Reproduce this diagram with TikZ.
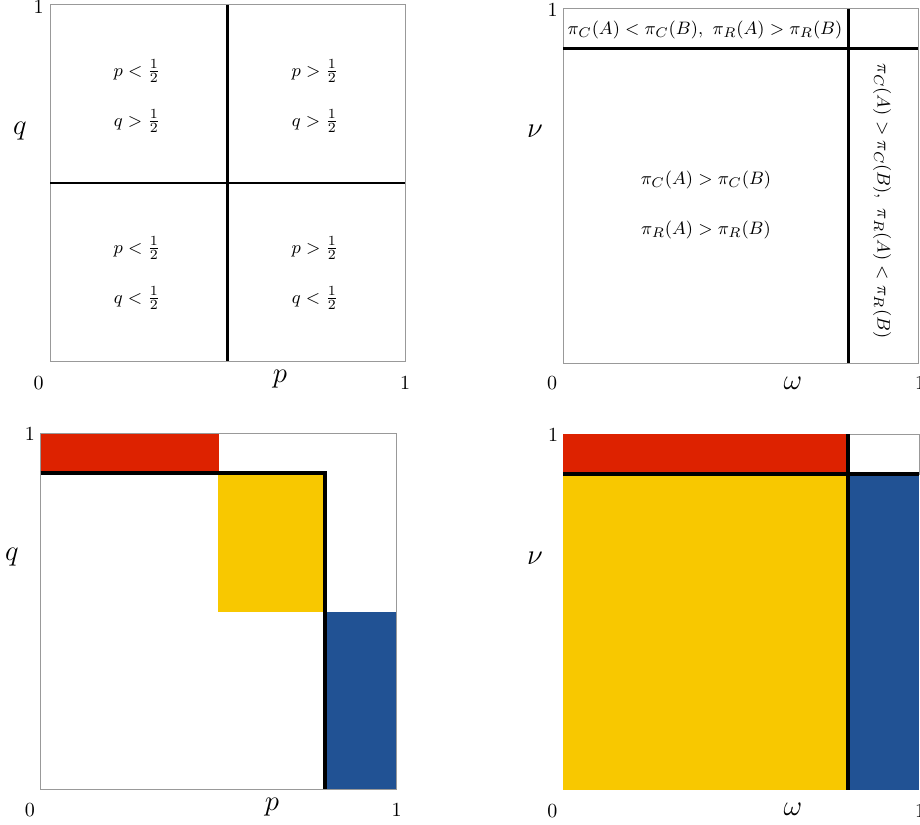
\documentclass[tikz,border=0pt]{standalone}
\usepackage{amsmath}
\definecolor{mred}{HTML}{DD2200}
\definecolor{myel}{HTML}{F8C800}
\definecolor{mblue}{HTML}{215294}
\definecolor{frame}{HTML}{999999}
\tikzset{
  framebox/.style={draw=frame, line width=0.5pt},
  thin sep/.style={line width=1.3pt, black},
  thick sep/.style={line width=2pt, black},
  tick/.style={inner sep=0pt, font=\normalsize},
  axlab/.style={inner sep=0pt, font=\fontsize{13.7}{16}\selectfont},
  region/.style={inner sep=0pt, font=\fontsize{9.4}{11}\selectfont},
}
\begin{document}
\begin{tikzpicture}[x=0.5pt, y=-0.5pt]
\useasboundingbox (0,0) rectangle (920,824);
% ---------- top-left ----------
\draw[framebox] (50,5) rectangle (405,361);
\coordinate (tlT) at (227.5,5);
\coordinate (tlB) at (227.5,361);
\coordinate (tlL) at (50,183);
\coordinate (tlR) at (405,183);
\draw[thin sep] (tlT) -- (tlB);
\draw[thin sep] (tlL) -- (tlR);
\node[region] (tl1) at (137,71) {$p<\frac12$};
\node[region] (tl2) at (137,121) {$q>\frac12$};
\node[region] (tl3) at (315,71) {$p>\frac12$};
\node[region] (tl4) at (315,121) {$q>\frac12$};
\node[region] (tl5) at (137,248) {$p<\frac12$};
\node[region] (tl6) at (137,298) {$q<\frac12$};
\node[region] (tl7) at (315,248) {$p>\frac12$};
\node[region] (tl8) at (315,298) {$q<\frac12$};
\node[tick] (tly1) at (38.5,7) {1};
\node[tick] (tlx0) at (38.5,383) {0};
\node[tick] (tlx1) at (405,383) {1};
\node[axlab] (tlp) at (280,379) {$p$};
\node[axlab] (tlq) at (20,131) {$q$};
% ---------- top-right ----------
\draw[framebox] (563.3,9) rectangle (918,363.3);
\coordinate (trT) at (848.3,9);
\coordinate (trB) at (848.3,363.3);
\coordinate (trL) at (563.3,48.3);
\coordinate (trR) at (918,48.3);
\draw[thin sep] (trT) -- (trB);
\draw[thin sep] (trL) -- (trR);
\node[region] (tr1) at (705,30) {$\pi_C(A)<\pi_C(B),\ \pi_R(A)>\pi_R(B)$};
\node[region] (tr2) at (706,180) {$\pi_C(A)>\pi_C(B)$};
\node[region] (tr3) at (706,230) {$\pi_R(A)>\pi_R(B)$};
\node[region, rotate=-90] (tr4) at (882,201) {$\pi_C(A)>\pi_C(B),\ \pi_R(A)<\pi_R(B)$};
\node[tick] (try1) at (552.5,10) {1};
\node[tick] (trx0) at (552,383) {0};
\node[tick] (trx1) at (920,383) {1};
\node[axlab] (tro) at (793,383) {$\omega$};
\node[axlab] (trn) at (535,131) {$\nu$};
% ---------- bottom-left ----------
\fill[mred] (40.7,433) rectangle (219,473);
\fill[myel] (218,473) rectangle (324.7,611.5);
\fill[mblue] (324.7,611.5) rectangle (396.7,789);
\draw[framebox] (40.7,433) rectangle (396.7,789);
\coordinate (blA) at (40.7,473);
\coordinate (blC) at (324.7,473);
\coordinate (blD) at (324.7,789);
\draw[thick sep] (blA) -- (blC) -- (blD);
\node[tick] (bly1) at (30,434) {1};
\node[tick] (blx0) at (30,810) {0};
\node[tick] (blx1) at (396.5,810) {1};
\node[axlab] (blp) at (272,807) {$p$};
\node[axlab] (blq) at (12,557) {$q$};
% ---------- bottom-right ----------
\fill[mred] (563.3,434) rectangle (848,474);
\fill[myel] (563.3,474) rectangle (848,790);
\fill[mblue] (848,474) rectangle (919,790);
\draw[framebox] (848,434) rectangle (919,474);
\coordinate (brT) at (848,434);
\coordinate (brB) at (848,790);
\coordinate (brL) at (563.3,474);
\coordinate (brR) at (919,474);
\draw[thick sep] (brT) -- (brB);
\draw[thick sep] (brL) -- (brR);
\node[tick] (bry1) at (553,435) {1};
\node[tick] (brx0) at (552.3,811) {0};
\node[tick] (brx1) at (920,811) {1};
\node[axlab] (bro) at (793,809) {$\omega$};
\node[axlab] (brn) at (535,558) {$\nu$};
\end{tikzpicture}
\end{document}
